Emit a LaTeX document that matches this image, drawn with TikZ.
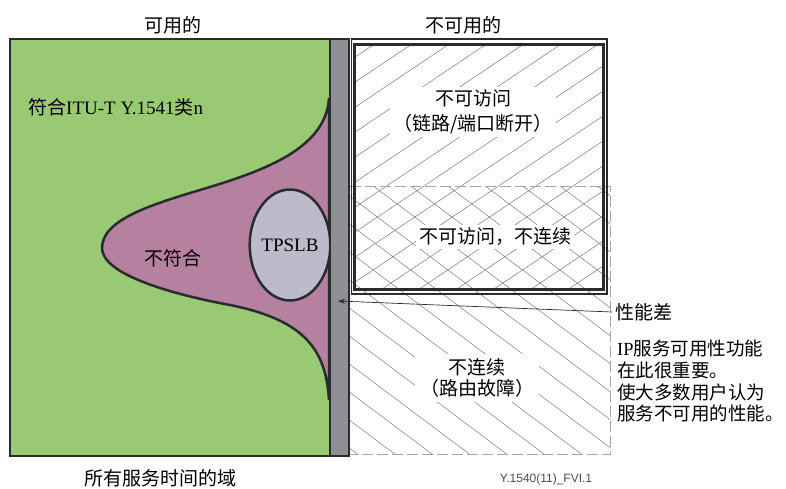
\documentclass[tikz,border=0pt]{standalone}
\usepackage{fontspec}
\setmainfont{Liberation Serif}
\newfontfamily\cjk{Noto Sans CJK SC}
\newfontfamily\codefont{Liberation Sans}
\usetikzlibrary{shapes.geometric,arrows.meta}
\definecolor{grn}{RGB}{154,201,115}
\definecolor{pur}{RGB}{182,128,160}
\definecolor{lav}{RGB}{188,186,203}
\definecolor{bar}{RGB}{142,144,148}
\definecolor{ink}{RGB}{40,44,46}
\definecolor{hatch}{RGB}{120,120,120}
\tikzset{
  txt/.style={font=\fontsize{19}{22}\selectfont, text=black},
  boxtxt/.style={txt, fill=white, inner sep=3pt, align=center},
  hatchline/.style={draw=hatch, line width=0.5pt},
  dashline/.style={draw=gray!70, line width=0.8pt, dash pattern=on 11pt off 4pt},
  frame/.style={draw=ink, line width=2.5pt},
  pointer/.style={draw=ink, line width=0.7pt, -{Stealth[length=7pt,width=5pt]}}
}
\begin{document}
\begin{tikzpicture}[x=1pt,y=-1pt]
\useasboundingbox (0,0) rectangle (786,488);

% hatching: upper unavailable region (/)
\begin{scope}
  \clip (354.5,44.5) rectangle (603,289);
  \foreach \c in {270,295,...,720} {
    \draw[hatchline] (300,\c-201) -- (700,\c-469);
  }
\end{scope}
% hatching: lower discontinuity region (\)
\begin{scope}
  \clip (350,186) rectangle (610,454);
  \foreach \c in {-290,-262,...,210} {
    \draw[hatchline] (300,\c+225) -- (700,\c+525);
  }
\end{scope}

% dashed region outline
\draw[dashline] (350,186) -- (610,186) -- (610,454) -- (350,454);

% unavailable double frame
\draw[draw=ink, line width=1.2pt] (351.5,39) rectangle (607,294);
\draw[draw=ink, line width=3pt] (354.5,44.5) rectangle (603,289);

% available panel
\fill[grn] (10,39) rectangle (330,456);
\filldraw[fill=pur, draw=ink, line width=2.5pt]
  (329,98) .. controls (326,150) and (260,172) .. (200,190)
           .. controls (150,205) and (102,220) .. (102,248)
           .. controls (102,272) and (160,292) .. (230,305)
           .. controls (305,320) and (326,350) .. (329,400) -- cycle;
\node[draw=ink, line width=2.5pt, fill=lav, ellipse, minimum width=75pt,
      minimum height=111pt, inner sep=0pt, txt] (tpslb) at (290,245) {TPSLB};
\filldraw[fill=bar, frame] (330,39) rectangle (349,456);
\draw[frame] (10,39) rectangle (349,456);

% labels
\node[txt] (avail) at (173,25) {\cjk 可用的};
\node[txt] (unavail) at (463,25) {\cjk 不可用的};
\node[txt, anchor=west, inner sep=0pt] (conform) at (28,107) {{\cjk 符合}ITU-T Y.1541{\cjk 类}n};
\node[txt] (nonconf) at (173,258) {\cjk 不符合};
\node[boxtxt, font=\fontsize{19}{25}\selectfont] (inacc) at (473,112) {\cjk 不可访问\\\cjk （链路/端口断开）};
\node[boxtxt] (both) at (495,237) {\cjk 不可访问，不连续};
\node[boxtxt, inner sep=5pt, font=\fontsize{19}{21}\selectfont] (discont) at (477,378) {\cjk 不连续\\\cjk （路由故障）};
\node[txt, anchor=west] (perf) at (612,312) {\cjk 性能差};
\node[txt, anchor=north west, align=left, inner sep=4pt, font=\fontsize{18.5}{21.7}\selectfont] (note) at (613,336)
  {IP{\cjk 服务可用性功能}\\{\cjk 在此很重要。}\\{\cjk 使大多数用户认为}\\{\cjk 服务不可用的性能。}};
\node[txt] (domain) at (160,478) {\cjk 所有服务时间的域};
\node[font=\codefont\fontsize{12}{14}\selectfont, text=black!70] (code) at (546,479) {Y.1540(11)\_FVI.1};

% pointer
\coordinate (bartip) at (338,301);
\draw[pointer] (perf.west) -- (bartip);
\end{tikzpicture}
\end{document}
